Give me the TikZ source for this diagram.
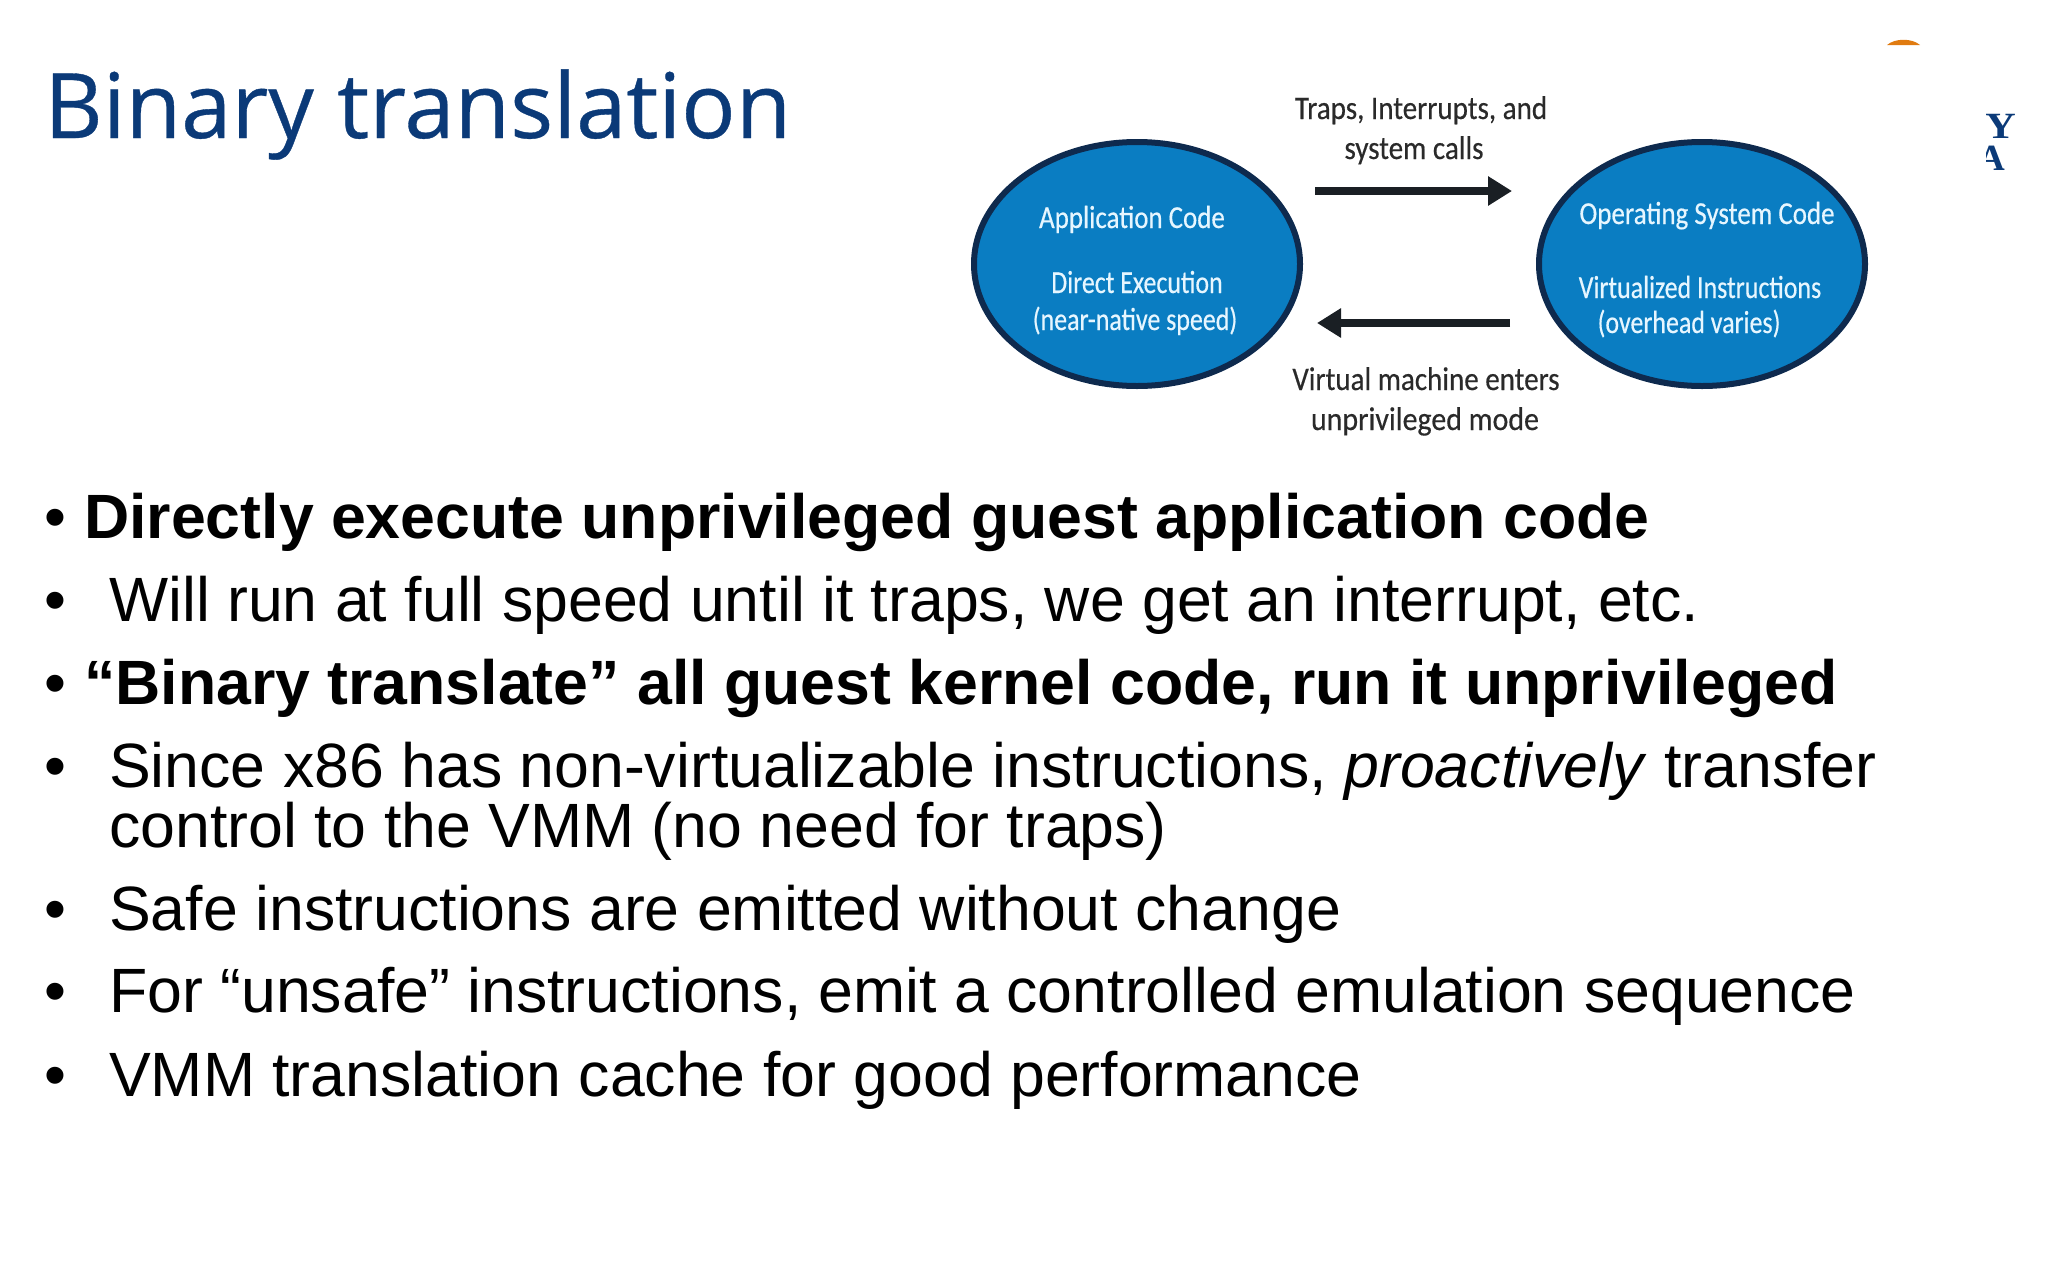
\documentclass[tikz,border=0pt]{standalone}
\usepackage{fontspec}
\setmainfont{Liberation Sans}
\newfontfamily\titlefont[FakeBold=0.4]{Open Sans}
\newfontfamily\bubblefont[FakeStretch=0.81,FakeBold=0.4]{Carlito}
\newfontfamily\labelfont[FakeStretch=0.88,FakeBold=0.4]{Carlito}
\newfontfamily\logofont{Liberation Serif}
\usetikzlibrary{arrows.meta,shapes.geometric}
\definecolor{titleblue}{HTML}{0B3A78}
\definecolor{ellblue}{HTML}{0A7DC2}
\definecolor{ellborder}{HTML}{0E2A4E}
\definecolor{figtext}{HTML}{2A2A2A}
\definecolor{arrowdark}{HTML}{1A1F24}
\definecolor{ellipsetext}{HTML}{E6F6FF}
\definecolor{logoorange}{HTML}{E07B10}
\tikzset{x=1pt,y=-1pt,
  bodytext/.style={anchor=base west,inner sep=0,font=\fontsize{62.6}{68}\selectfont,text=black},
  boldtext/.style={bodytext,font=\fontsize{62.6}{68}\selectfont\bfseries},
  bulletmark/.style={anchor=base west,inner sep=0,font=\fontsize{62.6}{68}\selectfont,text=black},
  bubble/.style={ellipse,draw=ellborder,fill=ellblue,line width=6pt,minimum width=326pt,minimum height=244pt,inner sep=0},
  bubbletext/.style={anchor=base,inner sep=0,text=ellipsetext,font=\bubblefont\fontsize{32}{36}\selectfont},
  labeltext/.style={anchor=base,inner sep=0,text=figtext,font=\labelfont\fontsize{33}{36}\selectfont},
  bigarrow/.style={line width=8pt,arrowdark,-{Triangle[length=24pt,width=28pt]}},
  logotext/.style={anchor=base east,inner sep=0,text=titleblue,font=\logofont\bfseries\fontsize{37}{40}\selectfont},
}
\begin{document}
\begin{tikzpicture}
\useasboundingbox (0,0) rectangle (2048,1280);
\node[anchor=base west,inner sep=0,text=titleblue,font=\titlefont\fontsize{90.4}{96}\selectfont] (title) at (44,138) {Binary translation};
% figure
\node[bubble] (app) at (1137,264) {};
\node[bubble] (os) at (1702,264) {};
\node[bubbletext] (a1) at (1132,228) {\scalebox{1.04}[1]{Application Code}};
\node[bubbletext] (a2) at (1137,293) {Direct Execution};
\node[bubbletext] (a3) at (1135,330) {(near-native speed)};
\node[bubbletext] (o1) at (1707,224) {\scalebox{1.04}[1]{Operating System Code}};
\node[bubbletext] (o2) at (1700,298) {Virtualized Instructions};
\node[bubbletext] (o3) at (1689,333) {(overhead varies)};
\node[labeltext] (l1) at (1421,119) {Traps, Interrupts, and};
\node[labeltext] (l2) at (1414,159) {system calls};
\node[labeltext] (l3) at (1426,390) {Virtual machine enters};
\node[labeltext] (l4) at (1425,430) {\scalebox{1.03}[1]{unprivileged mode}};
\coordinate (ta) at (1315,191);
\coordinate (tb) at (1512,191);
\coordinate (ba) at (1510,323);
\coordinate (bb) at (1317,323);
\draw[bigarrow] (ta) -- (tb);
\draw[bigarrow] (ba) -- (bb);
% logo remains
\fill[logoorange] (1887,45) .. controls (1895,38) and (1912,38) .. (1920,45) -- cycle;
\begin{scope}
\clip (1986,100) rectangle (2048,180);
\node[logotext] (ly) at (2016,138) {\scalebox{1.15}[1]{Y}};
\node[logotext] (la) at (2005,170) {A};
\end{scope}
% body
\foreach \yy in {538,621,704,787,930,1012,1096}{\node[bulletmark] at (44,\yy) {•};}
\node[boldtext] (b1) at (84,538) {Directly execute unprivileged guest application code};
\node[bodytext] (b2) at (109,621) {Will run at full speed until it traps, we get an interrupt, etc.};
\node[boldtext] (b3) at (84,704) {“Binary translate” all guest kernel code, run it unprivileged};
\node[bodytext] (b4) at (109,787) {Since x86 has non-virtualizable instructions, \textit{proactively} transfer};
\node[bodytext] (b5) at (109,847) {control to the VMM (no need for traps)};
\node[bodytext] (b6) at (109,930) {Safe instructions are emitted without change};
\node[bodytext] (b7) at (109,1012) {For “unsafe” instructions, emit a controlled emulation sequence};
\node[bodytext] (b8) at (109,1096) {VMM translation cache for good performance};
\end{tikzpicture}
\end{document}
